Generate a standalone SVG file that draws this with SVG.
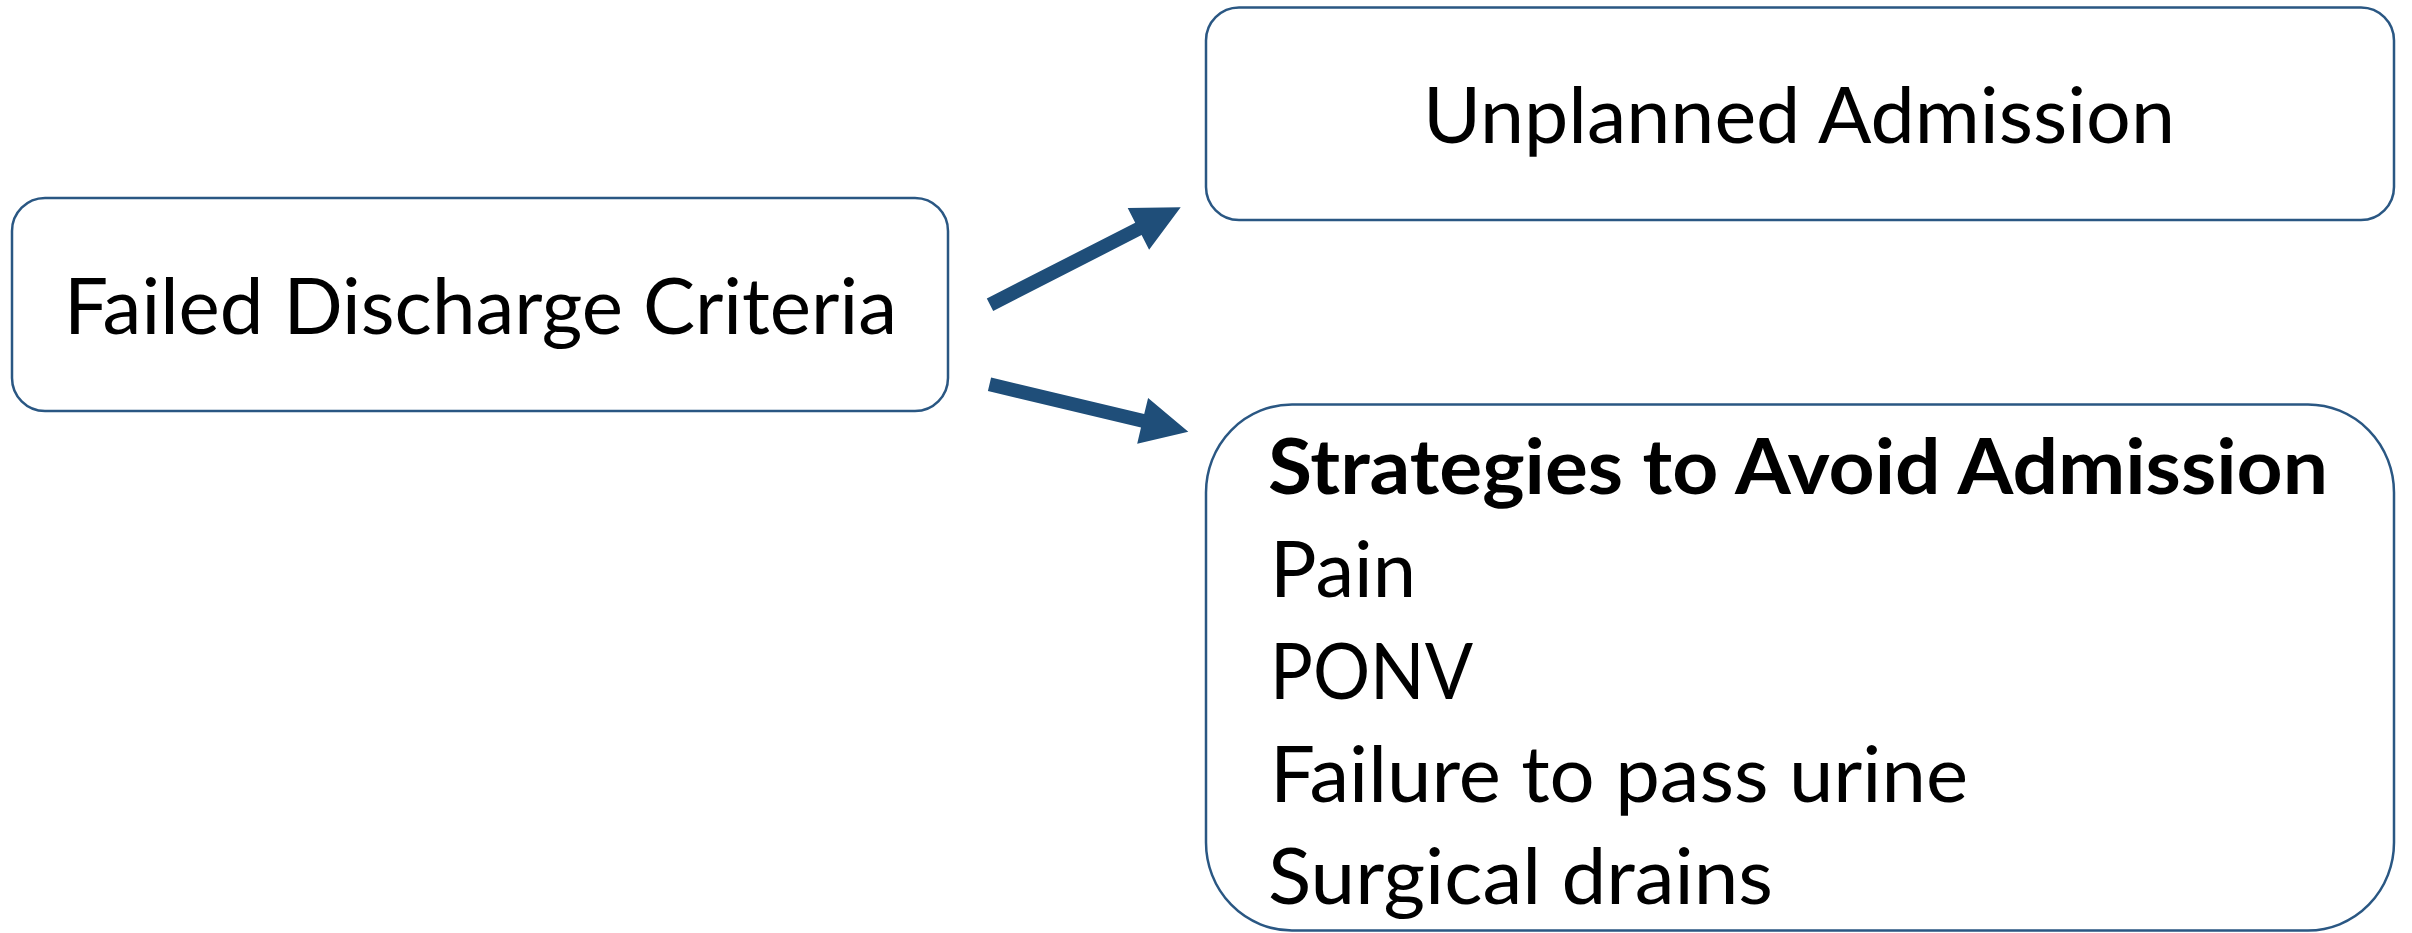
<svg xmlns="http://www.w3.org/2000/svg" width="2412" height="933" viewBox="0 0 2412 933">
<style>
.box{fill:#fff;stroke:#2A5783;stroke-width:2.5}
.t{font-family:Lato,"Open Sans","Liberation Sans",sans-serif;font-size:77px;fill:#000}
.b{font-weight:700}
.arrow{fill:#1F4E79}
</style>
<rect width="2412" height="933" fill="#fff"/>
<g id="connectors">
<polygon class="arrow" points="986.8,298.5 1135.2,222.7 1127.7,208.0 1180.7,207.3 1149.1,249.8 1141.6,235.1 993.2,310.9"/>
<polygon class="arrow" points="991.1,377.5 1144.2,414.0 1148.1,397.9 1188.3,431.7 1137.2,443.7 1141.0,427.6 987.9,391.1"/>
</g>
<g id="failed">
<rect class="box" x="12" y="198" width="936" height="213" rx="33" ry="33"/>
<text class="t" x="480.5" y="334" text-anchor="middle" textLength="833" lengthAdjust="spacingAndGlyphs">Failed Discharge Criteria</text>
</g>
<g id="unplanned">
<rect class="box" x="1206" y="7.5" width="1188" height="212.5" rx="33" ry="33"/>
<text class="t" x="1799" y="142.7" text-anchor="middle" textLength="752" lengthAdjust="spacingAndGlyphs">Unplanned Admission</text>
</g>
<g id="strategies">
<rect class="box" x="1206" y="404.5" width="1188" height="526" rx="86" ry="88"/>
<text class="t b" x="1268" y="494" textLength="1060" lengthAdjust="spacingAndGlyphs">Strategies to Avoid Admission</text>
<text class="t" x="1270" y="597" textLength="146" lengthAdjust="spacingAndGlyphs">Pain</text>
<text class="t" x="1270" y="699" textLength="203" lengthAdjust="spacingAndGlyphs">PONV</text>
<text class="t" x="1270" y="802" textLength="698" lengthAdjust="spacingAndGlyphs">Failure to pass urine</text>
<text class="t" x="1268" y="904" textLength="505" lengthAdjust="spacingAndGlyphs">Surgical drains</text>
</g>
</svg>
